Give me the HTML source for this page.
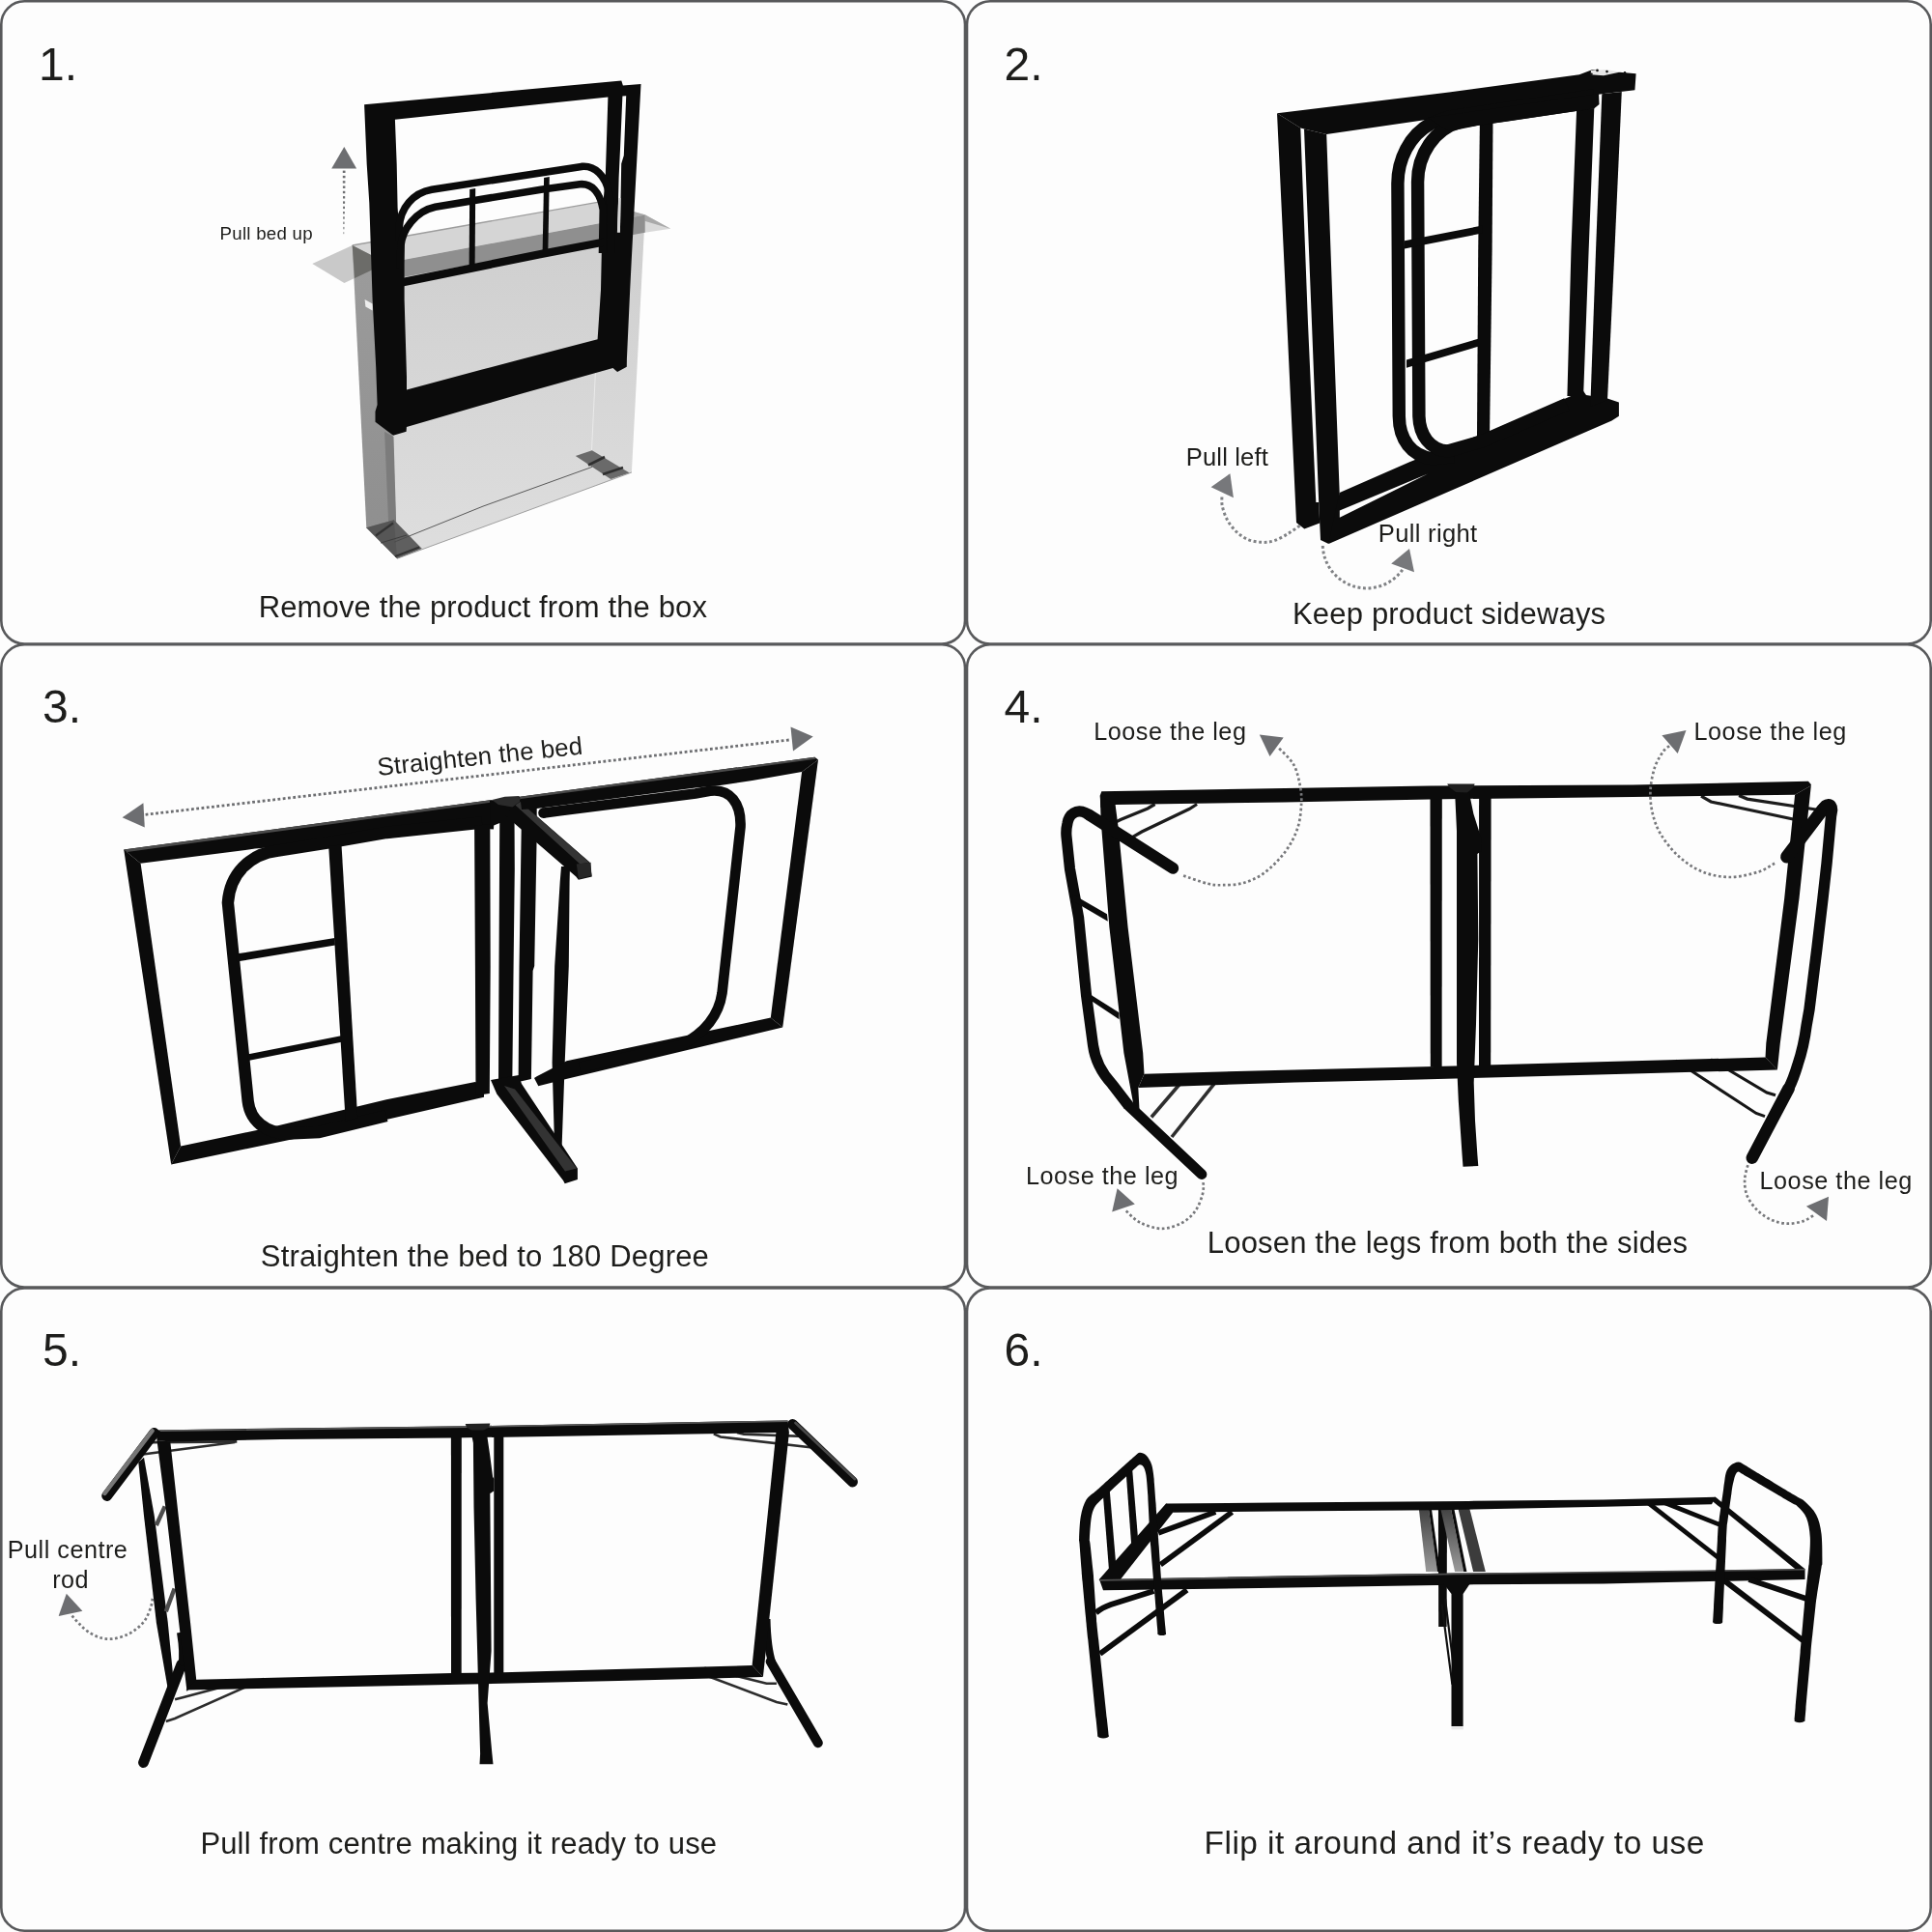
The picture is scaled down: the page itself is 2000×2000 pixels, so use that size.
<!DOCTYPE html>
<html><head><meta charset="utf-8"><title>Folding bed assembly</title>
<style>
html,body{margin:0;padding:0;background:#fdfdfd;}
body{width:2000px;height:2000px;overflow:hidden;font-family:"Liberation Sans",sans-serif;}
svg{display:block;position:absolute;left:0;top:0;will-change:transform;}
text{font-family:"Liberation Sans",sans-serif;fill:#1d1d1b;}
.num{font-size:48px;}
.cap{font-size:31px;letter-spacing:0.18px;}
.lbl{font-size:24px;}
.k{fill:#0b0b0b;}
.ks{stroke:#0b0b0b;fill:none;}
.ar{fill:#6d6e71;}
.dot{stroke:#6d6e71;fill:none;stroke-width:2.4;stroke-dasharray:2.4 3.2;}
</style></head><body>
<svg xmlns="http://www.w3.org/2000/svg" width="2000" height="2000" viewBox="0 0 2000 2000">
<rect x="0" y="0" width="2000" height="2000" fill="#fdfdfd"/>
<!-- PANEL BORDERS -->
<g fill="none" stroke="#58595b" stroke-width="2.6">
<rect x="1.3" y="1.3" width="997.7" height="665.2" rx="24" ry="24"/>
<rect x="1001" y="1.3" width="997.7" height="665.2" rx="24" ry="24"/>
<rect x="1.3" y="667.3" width="997.7" height="665.2" rx="24" ry="24"/>
<rect x="1001" y="667.3" width="997.7" height="665.2" rx="24" ry="24"/>
<rect x="1.3" y="1333.5" width="997.7" height="665.2" rx="24" ry="24"/>
<rect x="1001" y="1333.5" width="997.7" height="665.2" rx="24" ry="24"/>
</g>
<!-- NUMBERS -->
<text class="num" x="40" y="83">1.</text>
<text class="num" x="1039.5" y="83">2.</text>
<text class="num" x="44" y="747.7">3.</text>
<text class="num" x="1039.5" y="747.7">4.</text>
<text class="num" x="44" y="1413.8">5.</text>
<text class="num" x="1039.5" y="1413.8">6.</text>
<!-- CAPTIONS -->
<text class="cap" x="267.7" y="638.7" style="letter-spacing:0.14px">Remove the product from the box</text>
<text class="cap" x="1338" y="646.2">Keep product sideways</text>
<text class="cap" x="269.8" y="1311.2">Straighten the bed to 180 Degree</text>
<text class="cap" x="1249.8" y="1297.1">Loosen the legs from both the sides</text>
<text class="cap" x="207.4" y="1919" style="letter-spacing:0.15px">Pull from centre making it ready to use</text>
<text class="cap" x="1246.6" y="1919" style="font-size:33.4px;letter-spacing:0.49px">Flip it around and it’s ready to use</text>
<!--P1S--><g id="p1">
<defs>
<linearGradient id="p1front" x1="0" y1="0" x2="0" y2="1"><stop offset="0" stop-color="#cecece"/><stop offset="1" stop-color="#dedede"/></linearGradient>
<linearGradient id="p1side" x1="0" y1="0" x2="0" y2="1"><stop offset="0" stop-color="#9c9c9c"/><stop offset="1" stop-color="#8e8e8e"/></linearGradient>
</defs>
<!-- box: left flap -->
<polygon points="323.3,273.1 364.7,254 400.3,272.2 356.4,292.9" fill="#c9c9c9"/>
<!-- open top light band -->
<polygon points="364.7,254 648,204.2 655,221 667.7,222.5 400.3,272.2" fill="#d5d5d5"/>
<polyline points="364.7,254 422,244 621.3,208.9" fill="none" stroke="#9d9d9d" stroke-width="1.3"/>
<!-- right flap -->
<polygon points="654,218.6 667.7,222.2 694.2,236.7 667.7,240.8 655,243" fill="#d9d9d9"/>
<polygon points="654,218.6 667.7,222.2 694.2,236.7 668,229 654,228" fill="#a9a9a9"/>
<!-- front face -->
<polygon points="400.3,272.2 667.7,222.5 653.9,489 411.2,578.2" fill="url(#p1front)"/>
<!-- front flap dark band -->
<polygon points="400.3,272.2 667.7,222.5 667.7,240.8 416.8,287" fill="#8f8f8f"/>
<!-- side face -->
<polygon points="364.7,254 400.3,272.2 411.2,578.2 379.3,546.3" fill="url(#p1side)"/>
<polygon points="398.1,447 407.5,452 411.2,578.2 402.3,545" fill="#7c7c7c"/>
<!-- dark inner triangle on the left -->
<polygon points="364.7,254 400.3,272.2 367.1,288" fill="#6c6c69"/>
<!-- small white tab -->
<polygon points="377.6,310 385.6,314.5 385.6,321.5 378.4,317.5" fill="#ededed"/>
<!-- bottom tape patches -->
<polygon points="379.3,546.3 407.8,538.3 436.8,567.9 411.2,578.2" fill="#5f5f5f"/>
<polygon points="379.3,546.3 407.8,538.3 411.2,578.2" fill="#4e4e4e" opacity="0.55"/>
<polyline points="389,554.5 407,541.5" fill="none" stroke="#333" stroke-width="2.2"/>
<polyline points="409,576 434,566.5" fill="none" stroke="#333" stroke-width="2"/>
<polyline points="394,562 421,554" fill="none" stroke="#3d3d3d" stroke-width="1"/>
<polygon points="595.8,472 612.9,466.3 651.6,489.6 632.3,495.9" fill="#6a6a6a"/>
<polyline points="609,481.5 626,473" fill="none" stroke="#2f2f2f" stroke-width="2.6"/>
<polyline points="624,491 645,484" fill="none" stroke="#2f2f2f" stroke-width="2.4"/>
<!-- thin edge lines at bottom -->
<polyline points="408.3,561.1 500,524.1 612.9,483.4" fill="none" stroke="#4a4a4a" stroke-width="0.9"/>
<polyline points="411.2,578.2 653.9,489" fill="none" stroke="#8a8a8a" stroke-width="0.8"/>
<polyline points="618,352 612.5,466" fill="none" stroke="#efefef" stroke-width="0.8"/>
<!-- FRAME: outer silhouette with opening -->
<path class="k" fill-rule="evenodd" d="M377.1,108.3 L643.3,83.5 L644.9,88.6 L663.5,87.1 L653.7,270 L652.2,300 L648.9,371.8 L648.8,379.7 L639.1,384.9 L634.5,380.9 L540,407.6 L500,419 L420.9,442.1 L420.6,446.8 L407.1,450.8 L388.5,436.8 L388.5,426 L390.6,419 L389.2,380 L385.6,310 L382.3,210 L379.7,170 Z
M408.9,123.8 L560,107.8 L629.4,100.5 L626.8,181.8 L624,215 L622.9,257 L622,300 L618.6,351.3 L540,371.8 L500,382.3 L421,403.5 L421,390 L418.6,310 L418.6,250 L415.4,237 L412.3,225 L411.6,215 L410.7,170 Z"/>
<!-- white gap between right uprights -->
<polygon points="644.4,99.6 648.2,99.2 645.8,161 643.2,169.5 641.9,240.4 639.2,240.4 640.6,184 642.2,150" fill="#fdfdfd"/>
<polygon points="640.2,205 642.6,205 641.9,240.4 638.9,240.4" fill="#d5d5d5"/>
<!-- headboard tubes -->
<path class="ks" stroke-width="7.6" d="M413,250 L413.2,236 C414,215 428,199.5 447,196.2 L602,172.4 C616,171 627,182 630.5,200 C632.5,210 633,225 632.5,262"/>
<path class="ks" stroke-width="7.6" d="M414,278 L415,254 C416.5,238 430,218.5 450.5,214.2 L560,196.2 L600,190.7 C612,189.5 621,198 624.3,217 L623.5,262"/>
<!-- headboard vertical bars -->
<polygon class="k" points="486.2,196 492.2,195 491.6,276 485.6,277"/>
<polygon class="k" points="563.1,184 568.8,183 567.3,261 561.6,262"/>
<!-- headboard bottom rail -->
<polygon class="k" points="417,287.8 560,258.8 625,246.4 625,254.8 560,267.2 417,296.4"/>
<!-- arrow + label -->
<polygon class="ar" points="356.3,152.1 343.2,174.5 369.1,174.5"/>
<g fill="#6d6e71">
<rect x="354.8" y="176.6" width="2.7" height="2.4"/><rect x="354.8" y="181.9" width="2.7" height="2.4"/><rect x="354.8" y="187.2" width="2.6" height="2.4"/><rect x="354.9" y="192.5" width="2.5" height="2.4"/><rect x="354.9" y="197.8" width="2.4" height="2.4"/><rect x="355" y="203.1" width="2.2" height="2.4"/><rect x="355" y="208.4" width="2.1" height="2.4"/><rect x="355.1" y="213.7" width="1.9" height="2.4"/><rect x="355.1" y="219" width="1.7" height="2.4"/><rect x="355.2" y="224.3" width="1.5" height="2.4"/><rect x="355.3" y="229.6" width="1.2" height="2.4"/><rect x="355.4" y="234.9" width="1" height="2.4"/><rect x="355.5" y="240.2" width="0.7" height="2"/>
</g>
<text x="227.6" y="248.1" style="font-size:18.7px;letter-spacing:0.25px">Pull bed up</text>
</g>
<!--P1E-->
<!--P2S--><g id="p2">
<!-- back frame left upright + bottom rail of back frame -->
<polygon class="k" points="1322,117.2 1346.3,132.6 1354,335 1362.3,520 1365.2,520 1366.2,541.5 1350.3,547.5 1342,541 1332.6,340"/>
<!-- top band (both top beams) -->
<polygon class="k" points="1322,117.2 1500,95.5 1634.9,77.3 1648,72.2 1693.6,76.2 1692.4,93.3 1658.3,97.3 1373.2,139 1350,133.4 1346.3,132.6"/>
<!-- front frame left upright -->
<polygon class="k" points="1350,133.4 1373.2,139 1380.2,335 1386.7,510.4 1386.6,534.5 1375.4,563 1367,559 1365.2,520 1358,335"/>
<!-- bottom rails (front + back, mechanism) -->
<polygon class="k" points="1386.7,510 1459.2,478.3 1501.4,461.2 1542,446.7 1638.9,404.6 1642,409 1664,412.6 1675.9,416.6 1675.9,430.8 1668.5,435.4 1375.4,563 1380,540"/>
<!-- white sliver between the two bottom rails -->
<polygon points="1386.8,528.6 1478,490.5 1386.8,535.8" fill="#fdfdfd"/>
<!-- right uprights -->
<polygon class="k" points="1632.1,113.8 1650.3,112 1644.6,260 1639.1,410 1622.4,410 1626.4,260"/>
<polygon class="k" points="1658.3,97.3 1678.8,95 1671.4,260 1664,414 1646.3,421 1652,260"/>
<!-- headboard vertical bar -->
<polygon class="k" points="1531.9,126 1545.5,124 1544.6,260 1542.1,448 1529,452 1530.2,260"/>
<!-- loops -->
<path class="ks" stroke-width="13.4" d="M1505,472.5 L1483,474.8 C1461,472 1448.5,455 1448.3,431 L1446.9,190 C1447,165 1459,140 1481,128 L1500,121 L1650,99"/>
<path class="ks" stroke-width="13.4" d="M1622,418.5 L1535,456.5 L1499,467 C1480,466 1469.5,450 1468.9,431 L1467.6,190 C1467,160 1485,133 1512.4,126 L1530,123 L1558.9,119 L1649.2,105.5"/>
<polygon class="k" points="1478,122 1655,97 1655.5,108 1650.3,112.3 1531,129.8 1500,136"/>
<!-- rungs -->
<polygon class="k" points="1454,249.2 1534.5,233.5 1534.5,241.5 1454,257.4"/>
<polygon class="k" points="1456,372.4 1532,350.2 1532,358.2 1456,380.8"/>
<!-- hinge plate -->
<polygon points="1646.9,72.9 1661.7,72.1 1677.6,74.4 1660,78.3 1646.9,77.2" fill="#e6e6e6"/>
<circle cx="1653.5" cy="72.9" r="1.3" fill="#111"/><circle cx="1663.5" cy="74.1" r="1.3" fill="#111"/><circle cx="1647.5" cy="76.6" r="1.2" fill="#111"/><circle cx="1682" cy="75.2" r="1.3" fill="#111"/>
<!-- arrows -->
<path class="dot" style="stroke-width:3;stroke-dasharray:2.9 2.6;stroke:#808285" d="M1345.5,544.2 C1343.5,545.6 1337.6,550.0 1333.2,552.6 C1328.8,555.2 1323.5,558.2 1319.1,559.7 C1314.7,561.2 1311.2,561.5 1306.8,561.4 C1302.4,561.2 1297.1,560.5 1292.7,558.8 C1288.3,557.0 1284.1,554.3 1280.4,550.9 C1276.7,547.5 1273.2,543.0 1270.7,538.6 C1268.2,534.2 1266.4,528.6 1265.4,524.5 C1264.4,520.4 1265.0,515.7 1264.9,513.9"/>
<polygon points="1273.4,490.2 1253.6,504.2 1276.9,515.3" fill="#77787b"/>
<path class="dot" style="stroke-width:3;stroke-dasharray:2.9 2.6;stroke:#808285" d="M1369.3,565 A45.5,45.5 0 0 0 1452,589.6"/>
<polygon points="1459,568.1 1440.2,583.4 1464,592.2" fill="#77787b"/>
<text x="1227.7" y="481.9" style="font-size:25.6px;letter-spacing:0.15px">Pull left</text>
<text x="1426.8" y="561.4" style="font-size:25.6px;letter-spacing:0.3px">Pull right</text>
</g>
<!--P2E-->
<!--P3S--><g id="p3">
<!-- LEFT HALF FRAME -->
<!-- top beam -->
<polygon class="k" points="128.2,879.4 509.3,828 512,836 511,858.5 491.1,857 400,867.8 264,878.6 145.6,893.8"/>
<polygon points="128.2,879.4 509.3,828 509.6,830.4 129.6,882.2" fill="#4a4a4a"/>
<!-- left upright -->
<polygon class="k" points="128.2,879.4 145.6,893.8 187.1,1186.5 177.2,1205.5"/>
<!-- bottom beam left half -->
<polygon class="k" points="187.1,1186.5 285.7,1165.8 400,1138.3 491.9,1120.1 501,1124 501,1135.8 400,1159 177.2,1205.5"/>
<!-- left loop -->
<path class="ks" stroke-width="12.4" d="M499,851.5 L400,862 L340,872.3 L288,880.5 C258,884 238,905 235.9,934.5 L256.7,1140 C259,1160 275,1173 298,1173.5 L330,1172 L400,1155"/>
<!-- left vertical bar -->
<polygon class="k" points="340.2,876 353.5,874.5 370.2,1157.5 357.7,1160.5"/>
<!-- rungs -->
<polygon class="k" points="244,987.6 346.5,971 346.9,978.4 245,995.6"/>
<polygon class="k" points="256,1091.4 353,1072.2 353.6,1078.8 257,1098"/>
<!-- CENTER uprights -->
<polygon class="k" points="491.1,855 507.3,853 507.7,1000 506.8,1132 492.5,1134 491.9,1000"/>
<polygon class="k" points="517.3,840 532.5,840 532.8,900 531.6,1000 530.3,1121 516,1124 516.5,1000 517,900"/>
<polygon class="k" points="540,838 555.7,836 555.7,862.8 553.2,1000 551.6,1005 549.9,1117 536.6,1120 537.5,1000"/>
<polygon class="k" points="507,829 538.3,824.7 541,838 532.5,852 517.3,852 507.5,856"/>
<!-- hinge plate top -->
<polygon points="509.3,828 522.6,824.7 537.5,823.9 538.3,829.7 530.8,835.5 515.9,833" fill="#2b2b2b"/>
<!-- top diagonal leg -->
<polygon class="k" points="523.4,844.6 530.8,835.5 538.3,829.7 610.4,892.6 612.8,907.5 598.8,910.8 596.3,907.5"/>
<polygon points="533.5,833.6 538.3,830 610,892.8 600.5,894.4" fill="#353535"/>
<polygon points="596.8,894.6 611.6,892.8 612.4,906.6 599,910" fill="#262626"/>
<!-- leg brace rod -->
<polygon class="k" points="581,897 590,897 589.6,913 588.8,1000 584.7,1100 581.5,1190 578,1200 574,1185 571.6,1100 574.2,1000 579.7,913"/>
<!-- bottom hinge + diagonal leg -->
<polygon class="k" points="508,1118 537,1113 540,1122 597.9,1209.5 597.9,1221.1 584.7,1225.3 583,1221.9 514.3,1132.5"/>
<polygon points="522,1124 533,1127.5 597,1209.6 585,1212.4" fill="#333"/>
<!-- RIGHT HALF FRAME -->
<!-- top beam -->
<polygon class="k" points="538.3,824.7 843.4,783.7 847,786.5 830.1,798.9 778.8,808 745.6,813 720,815.6 555.7,837.1 540,838"/>
<polygon points="538.3,824.7 843.4,783.7 844.2,785.8 539,827" fill="#4a4a4a"/>
<!-- right upright -->
<polygon class="k" points="847,786.5 830.1,798.9 797.8,1053.6 810.2,1063.5"/>
<!-- bottom beam right half -->
<polygon class="k" points="797.8,1053.6 720,1070 586.6,1098.3 555.7,1114.3 553,1116 557.3,1124.2 585,1117.3 720,1085 810.2,1063.5"/>
<!-- right loop -->
<path class="ks" stroke-width="10.6" d="M561.5,841.7 L580,839.3 L720,821.4 L735,818.8 C756,816 767.5,832 766.5,856 L747.5,1028 C744,1052 728,1070 705,1082 L600,1105"/>
<circle cx="562.5" cy="841.6" r="5.3" class="k"/>
<!-- ARROW + LABEL -->
<path class="dot" style="stroke-width:2.8;stroke-dasharray:2.8 2.5;stroke:#6d6e71" d="M150.6,843.3 L818.5,765.8"/>
<polygon class="ar" points="126.6,846.2 148.4,831.3 149.8,856.5"/>
<polygon class="ar" points="841.7,762.5 818.5,752.5 821,777.4"/>
<text transform="translate(391.6,802.9) rotate(-6.03)" style="font-size:25.8px;letter-spacing:0.15px">Straighten the bed</text>
</g>
<!--P3E-->
<!--P4S--><g id="p4">
<!-- braces (drawn first, behind) -->
<g fill="none" stroke="#1c1c1c" stroke-width="3.2">
<path d="M1195.6,832.5 L1188,837 L1160,848.5 L1150,853.6"/>
<path d="M1239.1,832.5 L1231,837.5 L1182,861 L1171,867.3"/>
<path d="M1761,824.2 L1771.2,830 L1866.8,850.3"/>
<path d="M1800.1,823.5 L1808.8,827.1 L1879.9,838"/>
</g>
<g fill="none" stroke="#2e2e2e" stroke-width="3.6">
<path d="M1229.2,1113 L1191.9,1156.5"/>
<path d="M1265.2,1111.7 L1213,1177"/>
</g>
<g fill="none" stroke="#161616" stroke-width="3">
<path d="M1734.8,1098.1 L1818,1152.5 L1827,1155.6"/>
<path d="M1771,1096.7 L1829,1131 L1838,1133.8"/>
</g>
<!-- MAIN FRAME -->
<!-- top beam -->
<polygon class="k" points="1138.8,823.6 1140.3,819.3 1330,816.1 1480,813.5 1690,812.6 1871.9,808.7 1874.8,811.9 1874.8,813.3 1858.1,822.8 1690,824.9 1480,827.4 1330,830.4 1154.6,832.9 1139.5,836"/>
<!-- left upright of frame -->
<polygon class="k" points="1138.8,823.6 1154.6,832.9 1157.7,857.1 1167.6,960 1183.2,1090 1184.5,1111.7 1178.3,1126 1179.5,1148.4 1174.5,1149.6 1163.4,1090 1148.4,960 1139.7,849.7"/>
<!-- bottom beam -->
<polygon class="k" points="1184.5,1111.7 1340,1107.4 1538.3,1102.6 1700,1098.1 1827.5,1094.5 1839.9,1107.5 1700,1111.2 1460,1117.7 1340,1120.4 1178.3,1126"/>
<!-- right upright -->
<polygon class="k" points="1874.8,813.3 1858.1,822.8 1847.2,930 1828.3,1080 1827.5,1094.5 1839.9,1107.5 1842.8,1080 1862.5,930"/>
<!-- centre uprights -->
<polygon class="k" points="1480.5,826 1492.8,826 1492.6,1104 1480.8,1104"/>
<polygon class="k" points="1531.1,824 1543.6,824 1543.2,1103 1531,1103"/>
<!-- centre hinge + leg -->
<polygon points="1498.1,811.6 1526.6,811.6 1525.4,815.1 1518.6,820.8 1508.3,820.8 1500.4,815.1" fill="#1f1f1f"/>
<polygon class="k" points="1506.1,820 1520.9,820.8 1525.4,842.4 1531.1,860.6 1533.8,868.6 1533.4,881.1 1529.4,884 1530.3,972 1528,1060 1525.7,1121 1527,1160 1529.4,1195.7 1530.3,1206.9 1514.5,1207.8 1513.6,1195.7 1509.8,1139.7 1508,1100 1508,860"/>
<!-- LEFT ARCH (headboard) -->
<path class="ks" stroke-width="12" stroke-linecap="round" d="M1214.2,898.8 L1164.5,867.1 L1127.3,843.5"/>
<path class="ks" stroke-width="11.2" stroke-linejoin="round" d="M1130,845.2 L1124,841.6 C1114,837 1106.5,843 1105,852.2 C1103.6,858 1103.6,862 1104,866 L1107.5,899.4 L1116.6,950 L1124.5,1030 L1131.5,1082 C1133.5,1097 1140,1110 1151,1122 L1168.3,1144.5"/>
<path class="ks" stroke-width="10.8" stroke-linecap="round" d="M1168.3,1144.5 L1244,1215.6"/>
<!-- left rungs -->
<polygon class="k" points="1110,925.4 1146,946.2 1146.8,953.8 1111.2,933"/>
<polygon class="k" points="1122.8,1025.8 1158.5,1048.3 1158.5,1055.2 1124,1032.3"/>
<!-- RIGHT ARCH -->
<path class="ks" stroke-width="13" stroke-linecap="round" d="M1849.6,887 L1886.8,838"/>
<path class="ks" stroke-width="11.4" stroke-linejoin="round" d="M1886.8,838 C1889.5,831.5 1896.8,830.5 1896.6,838.5 L1895.5,845 L1891,894 L1887,930 L1881,981 L1873,1045 L1870,1062 C1868,1078 1865,1090 1861,1102 C1858,1112 1855,1120 1851.5,1127"/>
<path class="ks" stroke-width="12.6" stroke-linecap="round" d="M1851.5,1127 L1813.8,1198.6"/>
<!-- ARCS & ARROWS -->
<g fill="none" stroke="#77787b" stroke-width="2.7" stroke-dasharray="2.7 2.6">
<path d="M1225.1,906.5 C1229.3,907.9 1243.8,913.2 1250.4,914.8 C1257.0,916.4 1258.9,916.3 1264.9,916.2 C1271.0,916.1 1279.5,916.2 1286.7,914.1 C1294.0,912.0 1301.2,909.2 1308.4,903.9 C1315.6,898.6 1324.3,889.9 1330.1,882.2 C1335.9,874.5 1340.3,866.0 1343.2,857.5 C1346.1,849.0 1346.8,839.1 1347.2,831.4 C1347.6,823.7 1346.8,818.0 1345.4,811.2 C1344.0,804.5 1342.5,797.2 1338.8,790.9 C1335.0,784.6 1325.6,776.4 1322.9,773.5"/>
<path d="M1837.1,893.8 C1834.3,895.2 1828.0,900.1 1820.4,902.5 C1812.8,904.9 1801.1,908.0 1791.4,908.0 C1781.8,908.0 1771.4,906.1 1762.5,902.5 C1753.6,898.9 1745.0,893.0 1737.8,886.5 C1730.5,880.0 1723.6,871.0 1719.0,863.3 C1714.4,855.6 1712.0,847.8 1710.3,840.1 C1708.6,832.4 1708.1,824.7 1708.6,817.0 C1709.1,809.3 1711.0,800.3 1713.2,793.8 C1715.4,787.3 1719.4,781.4 1721.9,777.8 C1724.4,774.2 1727.3,773.0 1728.4,772.0"/>
<path d="M1245.7,1224.1 C1245.6,1226.1 1246.3,1231.0 1245.0,1235.9 C1243.7,1240.8 1241.1,1248.3 1237.6,1253.3 C1234.1,1258.3 1229.7,1262.6 1223.9,1265.7 C1218.1,1268.8 1210.0,1271.9 1202.8,1271.9 C1195.5,1271.9 1186.6,1268.8 1180.4,1265.7 C1174.2,1262.6 1168.0,1255.4 1165.5,1253.3"/>
<path d="M1809.4,1206.1 C1808.9,1208.0 1807.0,1213.8 1806.5,1217.7 C1806.0,1221.6 1805.9,1225.4 1806.5,1229.3 C1807.1,1233.2 1807.8,1236.8 1810.1,1240.9 C1812.4,1245.0 1816.2,1250.2 1820.3,1253.9 C1824.4,1257.6 1829.7,1261.2 1834.8,1263.3 C1839.9,1265.4 1845.4,1266.6 1850.7,1266.7 C1856.0,1266.8 1862.1,1265.6 1866.7,1264.1 C1871.3,1262.6 1876.4,1258.6 1878.3,1257.5"/>
</g>
<polygon points="1303.8,760.4 1328.7,763.6 1314.5,782.9" fill="#6d6e71"/>
<polygon points="1745.5,756.1 1720.4,761.2 1736.7,780" fill="#6d6e71"/>
<polygon points="1156.6,1230.3 1174.8,1246.5 1151.2,1254.5" fill="#6d6e71"/>
<polygon points="1893,1238.7 1869.9,1248.8 1891,1264.1" fill="#6d6e71"/>
<!-- labels -->
<g style="font-size:25.2px;letter-spacing:0.54px">
<text x="1132.2" y="765.5">Loose the leg</text>
<text x="1753.5" y="765.5">Loose the leg</text>
<text x="1061.9" y="1225.7">Loose the leg</text>
<text x="1821.5" y="1231.4">Loose the leg</text>
</g>
</g>
<!--P4E-->
<!--P5S--><g id="p5">
<!-- thin braces -->
<g fill="none" stroke="#2c2c2c" stroke-width="2.6">
<path d="M145.9,1497.3 L157.3,1493.1 L245.3,1492.4"/>
<path d="M135.5,1510.7 L148,1505.5 L243.2,1493"/>
<path d="M255.6,1739.5 L190,1757 L181.1,1759.2"/>
<path d="M273.2,1738 L181,1779 L171.8,1782"/>
<path d="M738.8,1484.4 L746,1487.5 L851.8,1499.8"/>
<path d="M763,1483.1 L770,1484.8 L838.4,1487.1"/>
<path d="M711.7,1727.3 L803.9,1762 L815.3,1764.6"/>
<path d="M729.3,1726.8 L793.5,1742.8 L803.9,1742.8"/>
</g>
<!-- LEFT ARCH long side + lower leg (behind frame) -->
<polygon class="k" points="143.3,1513.8 149,1508.7 159.9,1570 173.8,1680 179.5,1738 174.3,1751.4 161.9,1680 149.1,1570"/>
<path class="ks" stroke-width="10.8" stroke-linecap="round" d="M148.5,1824.6 L187.8,1723"/>
<path class="ks" stroke-width="6" d="M186,1690 C188.5,1705 189,1715 187.3,1724"/>
<!-- left rungs -->
<path d="M161.8,1579 L170.7,1559.4" fill="none" stroke="#4d4d4d" stroke-width="4.4"/>
<path d="M171.8,1668.3 L180.6,1644.5" fill="none" stroke="#4d4d4d" stroke-width="4.4"/>
<!-- RIGHT ARCH lower leg -->
<path class="ks" stroke-width="8" d="M793.5,1676 C794,1698 795.5,1710 799.5,1722"/>
<path class="ks" stroke-width="10" stroke-linecap="round" d="M797.7,1720 L846.8,1804.2"/>
<!-- MAIN FRAME -->
<polygon class="k" points="161.5,1480.4 290,1478.6 484.5,1476.3 640,1473.5 815.5,1470.4 816.9,1483.1 803.4,1483.1 640,1485.8 468.4,1488.5 290,1490 176.3,1492.5 162.5,1491.1"/>
<polygon points="165.6,1480.3 484.5,1476.3 815.5,1470.4 815.6,1472 484.5,1478 165.8,1482" fill="#5a5a5a"/>
<!-- left upright -->
<polygon class="k" points="162.5,1491.1 176.3,1492.5 184.8,1570 197.1,1680 203.3,1739.5 193.5,1750.9 185.2,1680 172.6,1570"/>
<!-- bottom beam -->
<polygon class="k" points="203.2,1738.8 468.4,1732.1 520.8,1731.3 778.6,1724 789.9,1736.1 640,1740 440,1744.6 192.5,1749.6"/>
<!-- right upright -->
<polygon class="k" points="816.9,1483.1 803.4,1483.1 778.6,1724 789.9,1736.1"/>
<!-- centre uprights -->
<polygon class="k" points="466.9,1487 477.8,1487 477.7,1733 467,1733"/>
<polygon class="k" points="511.3,1486 521.3,1486 521.3,1732 511.3,1732"/>
<!-- centre hinge & leg -->
<polygon points="481.7,1474 507.3,1473.6 506.3,1477.5 500,1481 488.5,1481 483,1477.5" fill="#222"/>
<polygon class="k" points="487.2,1480.4 503.4,1480.4 507,1505 510.1,1528.8 511.4,1531 511.3,1543.6 507.3,1546 508.6,1709.2 504.6,1763 509.4,1815.5 510.5,1826.3 496.5,1826.3 497.1,1815.5 492.6,1655.3 490.5,1560 489.9,1493.8"/>
<!-- LEFT ARCH upper tube -->
<path class="ks" stroke-width="10.9" stroke-linecap="round" d="M110.7,1548.5 L159.6,1483.5"/>
<path d="M108.4,1546 L157.6,1481.2" fill="none" stroke="#777" stroke-width="4.4" stroke-linecap="round"/>
<!-- RIGHT ARCH upper tube -->
<path class="ks" stroke-width="10.8" stroke-linecap="round" d="M820.5,1474.5 L882.6,1534"/>
<path d="M823.5,1473 L885,1531.2" fill="none" stroke="#4a4a4a" stroke-width="2.6" stroke-linecap="round"/>
<!-- arc + arrow + label -->
<path fill="none" stroke="#77787b" stroke-width="2.7" stroke-dasharray="2.7 2.6" d="M157.9,1654.9 C157.6,1656.3 157.4,1659.8 156.3,1663.2 C155.2,1666.7 153.3,1672.0 151.1,1675.6 C148.9,1679.2 146.2,1682.1 142.9,1684.9 C139.6,1687.7 135.8,1690.3 131.5,1692.2 C127.2,1694.1 121.7,1696.0 117.0,1696.5 C112.3,1697.0 107.8,1696.5 103.5,1695.3 C99.2,1694.0 94.7,1691.4 91.1,1689.0 C87.5,1686.6 84.6,1683.5 81.8,1680.8 C79.0,1678.0 75.7,1673.9 74.5,1672.5"/>
<polygon points="68.8,1649.7 60.6,1673 85.4,1667.8" fill="#6d6e71"/>
<g style="font-size:25.2px;letter-spacing:0.5px">
<text x="7.8" y="1613">Pull centre</text>
<text x="54.2" y="1644.3">rod</text>
</g>
</g>
<!--P5E-->
<!--P6S--><g id="p6">
<!-- far-side braces (behind) -->
<g fill="none" stroke="#0b0b0b" stroke-width="5.6">
<path d="M1258.3,1565.2 L1199.1,1586.8"/>
<path d="M1275.4,1565.2 L1201.3,1619.8"/>
<path d="M1704.4,1554.3 L1779.6,1613.2" stroke-width="4.8"/>
<path d="M1719.8,1554.3 L1781.4,1578.8" stroke-width="4.8"/>
</g>
<!-- HEADBOARD back leg + bars -->
<polygon class="k" points="1141.7,1545 1148.6,1541 1155.6,1624 1148.2,1628"/>
<polygon class="k" points="1165.6,1523 1171.9,1518 1178.8,1602 1171.8,1608"/>
<!-- FOOTBOARD back leg -->
<!-- centre back leg -->
<polygon class="k" points="1488.9,1560 1498,1560 1497.6,1684 1489.2,1684"/>
<path d="M1492.5,1660.3 L1503.4,1743.6 M1496,1655 L1506,1735" fill="none" stroke="#111" stroke-width="2.2"/>
<!-- slats -->
<linearGradient id="p6s" x1="0" y1="0" x2="0" y2="1"><stop offset="0" stop-color="#3a3a3a"/><stop offset="1" stop-color="#9a9a9a"/></linearGradient>
<polygon points="1468.1,1555.2 1478,1555.2 1488,1627 1476.2,1627" fill="url(#p6s)"/>
<polygon points="1489.8,1555.2 1500.7,1555.2 1515.2,1627 1506.1,1627" fill="url(#p6s)"/>
<polygon points="1507.9,1555.2 1519.7,1555.2 1537.8,1627 1525.1,1627" fill="#3c3c3c"/>
<polygon class="k" points="1478,1555.2 1481,1555.2 1491,1627 1488,1627"/>
<polygon class="k" points="1500.7,1555.2 1504,1555.2 1518.4,1627 1515.2,1627"/>
<!-- PLATFORM far beam -->
<polygon class="k" points="1207,1556.6 1320,1555.5 1520,1553.9 1660,1552.5 1775.9,1549.8 1772,1557.2 1660,1559.7 1489.1,1563.2 1320,1564.6 1212.7,1565.7"/>
<!-- head-end beam -->
<polygon class="k" points="1137.6,1635.2 1207,1556.6 1212.7,1558.3 1214,1566 1161.5,1633 1152,1646"/>
<!-- foot-end beam -->
<polygon class="k" points="1768.7,1550.7 1775.9,1549.8 1868.3,1624.1 1868.3,1634.9 1858,1634 1859.3,1625"/>
<!-- near beam -->
<polygon class="k" points="1138,1635 1320,1631.5 1507,1628.6 1660,1627.7 1868.3,1624.1 1868.3,1634.9 1660,1639.5 1517.9,1640.4 1320,1643.8 1142,1646.3"/>
<polygon points="1138.5,1635 1507,1628.6 1868.3,1624.1 1868.3,1625.6 1507,1630.2 1139,1636.8" fill="#4f4f4f"/>
<!-- centre front leg -->
<polygon class="k" points="1494,1639 1522,1639 1514.6,1650 1514.6,1787 1502.5,1787 1502.5,1650"/>
<rect x="1502.5" y="1787" width="12.4" height="3.4" fill="#e8e8e8"/>
<!-- near-side braces -->
<g fill="none" stroke="#0b0b0b" stroke-width="5.8">
<path d="M1194.5,1647.1 L1150,1661 C1143,1663.5 1138,1666.5 1134.5,1669.5"/>
<path d="M1228.7,1645.9 L1138.7,1712"/>
<path d="M1783.2,1634.9 L1866.5,1698.3"/>
<path d="M1810.4,1634.9 L1877.4,1657.6"/>
</g>
<!-- HEADBOARD arch -->
<path class="k" d="M1136.4,1797.4 C1136.1,1794.5 1136.3,1796.4 1134.6,1779.8 C1132.9,1763.2 1128.0,1714.2 1126.3,1697.6 C1124.6,1681.0 1124.9,1684.2 1124.5,1680.0 C1124.1,1675.8 1124.5,1679.6 1123.8,1672.5 C1123.2,1665.4 1121.2,1644.6 1120.6,1637.5 C1119.9,1630.4 1120.1,1632.2 1119.9,1630.0 C1119.7,1627.8 1119.9,1629.7 1119.5,1624.4 C1119.1,1619.1 1117.9,1603.4 1117.5,1598.1 C1117.1,1592.8 1116.9,1597.2 1117.1,1592.5 C1117.3,1587.8 1117.6,1576.4 1118.8,1569.7 C1120.0,1563.0 1122.1,1556.8 1124.5,1552.6 C1126.9,1548.4 1130.6,1546.9 1133.0,1544.7 C1135.4,1542.5 1133.3,1544.4 1139.2,1539.2 C1145.0,1534.0 1162.0,1518.7 1167.8,1513.5 C1173.7,1508.3 1172.0,1509.6 1174.0,1508.0 C1176.0,1506.4 1177.6,1504.0 1179.7,1503.7 C1181.8,1503.5 1184.4,1504.4 1186.5,1506.5 C1188.6,1508.6 1190.9,1512.3 1192.2,1516.2 C1193.5,1520.1 1194.1,1526.8 1194.5,1529.9 C1194.9,1533.0 1194.5,1530.2 1194.8,1534.5 C1195.2,1538.9 1196.1,1551.6 1196.5,1556.0 C1196.8,1560.3 1196.7,1559.0 1196.8,1560.6 C1196.9,1562.2 1196.8,1560.9 1197.1,1565.4 C1197.5,1569.9 1198.4,1583.2 1198.8,1587.7 C1199.1,1592.2 1198.9,1590.3 1199.1,1592.5 C1199.3,1594.7 1199.1,1593.0 1199.7,1600.7 C1200.2,1608.4 1201.9,1631.1 1202.4,1638.8 C1203.0,1646.5 1202.8,1644.5 1203.0,1647.0 C1203.2,1649.5 1203.0,1647.4 1203.6,1653.7 C1204.2,1660.0 1205.8,1678.5 1206.4,1684.8 C1207.0,1691.1 1206.9,1690.4 1207.0,1691.5 L1198.5,1691.5 C1198.4,1690.4 1198.5,1691.1 1198.0,1684.8 C1197.5,1678.5 1196.1,1660.0 1195.6,1653.7 C1195.1,1647.4 1195.3,1649.5 1195.1,1647.0 C1194.9,1644.5 1195.1,1646.5 1194.4,1638.8 C1193.8,1631.1 1191.8,1608.4 1191.2,1600.7 C1190.5,1593.0 1190.7,1595.0 1190.5,1592.5 C1190.3,1590.0 1190.5,1592.1 1190.2,1585.7 C1189.8,1579.2 1188.9,1560.2 1188.5,1553.7 C1188.2,1547.3 1188.5,1551.3 1188.2,1546.9 C1187.9,1542.5 1187.2,1532.3 1186.5,1527.6 C1185.8,1522.9 1184.8,1520.4 1183.7,1518.5 C1182.6,1516.6 1181.1,1516.0 1179.7,1516.2 C1178.3,1516.4 1177.1,1518.1 1175.5,1519.5 C1173.9,1520.9 1175.2,1519.8 1170.0,1524.6 C1164.8,1529.5 1149.4,1543.8 1144.2,1548.7 C1139.0,1553.5 1140.6,1551.8 1138.7,1553.8 C1136.8,1555.8 1134.5,1557.6 1133.0,1560.6 C1131.5,1563.6 1130.4,1566.7 1129.6,1572.0 C1128.8,1577.3 1128.1,1588.1 1127.9,1592.5 C1127.7,1596.9 1127.9,1592.8 1128.5,1598.1 C1129.1,1603.4 1130.7,1619.1 1131.3,1624.4 C1131.9,1629.7 1131.7,1627.8 1131.9,1630.0 C1132.1,1632.2 1131.9,1630.4 1132.4,1637.5 C1132.9,1644.6 1134.3,1665.4 1134.8,1672.5 C1135.3,1679.6 1134.9,1675.8 1135.3,1680.0 C1135.7,1684.2 1135.4,1681.0 1137.2,1697.6 C1138.9,1714.2 1144.2,1763.2 1145.9,1779.8 C1147.7,1796.4 1147.5,1794.5 1147.8,1797.4 Z"/>
<ellipse cx="1142.1" cy="1797.2" rx="5.7" ry="2.2" class="k"/>
<ellipse cx="1202.8" cy="1691.3" rx="4.3" ry="1.8" class="k"/>
<!-- FOOTBOARD arch -->
<path class="k" d="M1773.2,1679.0 C1773.3,1676.5 1773.2,1678.2 1774.0,1664.2 C1774.8,1650.1 1777.1,1608.9 1777.9,1594.8 C1778.7,1580.8 1778.4,1583.6 1778.7,1580.0 C1779.0,1576.4 1778.8,1579.6 1779.6,1573.2 C1780.5,1566.9 1783.2,1548.1 1784.1,1541.8 C1784.9,1535.4 1784.5,1537.9 1785.0,1535.0 C1785.5,1532.1 1785.8,1527.4 1786.8,1524.4 C1787.8,1521.4 1789.2,1519.0 1791.3,1517.2 C1793.4,1515.4 1797.0,1513.7 1799.5,1513.6 C1802.0,1513.5 1803.4,1515.1 1806.0,1516.5 C1808.6,1517.9 1806.5,1516.8 1815.3,1522.2 C1824.2,1527.5 1850.1,1543.3 1859.0,1548.6 C1867.8,1554.0 1864.8,1551.1 1868.3,1554.3 C1871.8,1557.5 1877.2,1562.3 1880.1,1567.9 C1883.0,1573.5 1884.5,1579.7 1885.5,1587.8 C1886.5,1595.9 1886.4,1611.0 1886.4,1616.8 C1886.4,1622.6 1886.3,1617.1 1885.5,1622.8 C1884.6,1628.4 1881.9,1645.1 1881.0,1650.7 C1880.2,1656.4 1880.4,1654.7 1880.1,1656.7 C1879.8,1658.7 1880.1,1657.0 1879.4,1662.9 C1878.8,1668.8 1876.9,1686.2 1876.3,1692.1 C1875.6,1698.0 1875.9,1695.2 1875.6,1698.3 C1875.3,1701.4 1875.5,1699.0 1874.5,1710.8 C1873.5,1722.6 1870.4,1757.4 1869.4,1769.2 C1868.4,1781.0 1868.5,1779.6 1868.3,1781.7 L1857.5,1779.9 C1857.7,1777.9 1857.6,1779.2 1858.6,1767.7 C1859.6,1756.1 1862.6,1722.1 1863.6,1710.5 C1864.6,1699.0 1864.4,1701.4 1864.7,1698.3 C1865.0,1695.2 1864.7,1698.0 1865.2,1692.1 C1865.8,1686.2 1867.2,1668.8 1867.8,1662.9 C1868.3,1657.0 1868.1,1658.7 1868.3,1656.7 C1868.5,1654.7 1868.3,1656.4 1869.0,1650.7 C1869.6,1645.1 1871.5,1628.4 1872.1,1622.8 C1872.8,1617.1 1872.5,1622.0 1872.8,1616.8 C1873.1,1611.6 1874.2,1599.0 1873.8,1591.4 C1873.3,1583.9 1872.2,1576.8 1870.1,1571.5 C1868.0,1566.2 1864.1,1562.5 1861.1,1559.7 C1858.1,1556.9 1860.6,1559.4 1852.4,1554.6 C1844.2,1549.7 1819.9,1535.5 1811.7,1530.6 C1803.5,1525.8 1805.0,1526.7 1803.0,1525.5 C1801.0,1524.3 1800.5,1523.4 1799.5,1523.5 C1798.5,1523.6 1797.5,1524.8 1796.8,1526.2 C1796.0,1527.6 1795.6,1529.4 1795.0,1531.7 C1794.4,1534.0 1793.6,1537.6 1793.2,1540.0 C1792.8,1542.4 1793.2,1540.3 1792.4,1546.0 C1791.6,1551.7 1789.3,1568.3 1788.5,1574.0 C1787.7,1579.7 1788.0,1576.5 1787.7,1580.0 C1787.5,1583.5 1787.7,1580.8 1787.0,1594.8 C1786.4,1608.9 1784.5,1650.1 1783.9,1664.2 C1783.2,1678.2 1783.3,1676.5 1783.2,1679.0 Z"/>
<ellipse cx="1862.9" cy="1781" rx="5.5" ry="2.2" class="k"/>
<ellipse cx="1778.2" cy="1679" rx="5" ry="2" class="k"/>
</g>
<!--P6E-->
</svg>
</body></html>
